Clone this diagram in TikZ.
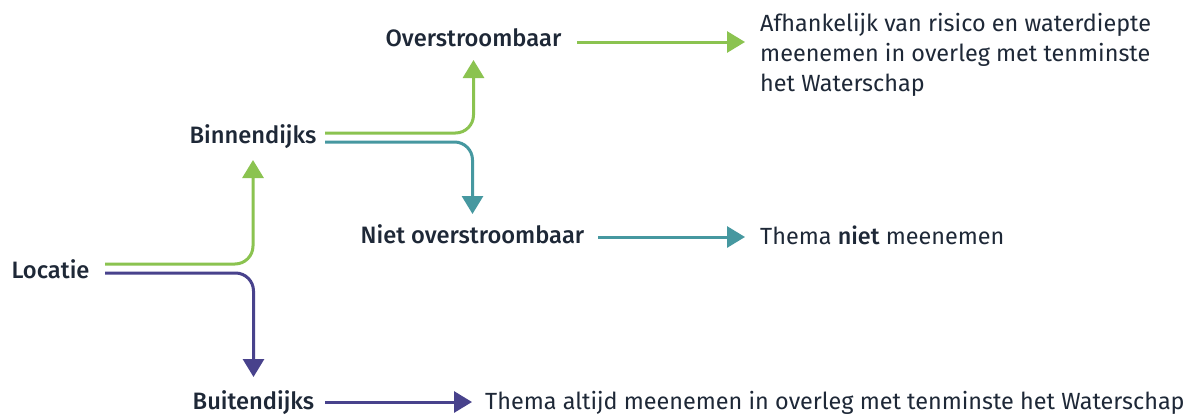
\documentclass[tikz,border=0pt]{standalone}
\usepackage{fontspec}
\setmainfont{Fira Sans}[BoldFont={Fira Sans Medium}]
\usetikzlibrary{arrows.meta,calc}
\definecolor{cgreen}{RGB}{139,195,80}
\definecolor{cteal}{RGB}{70,152,160}
\definecolor{cpurple}{RGB}{72,66,140}
\definecolor{ctext}{RGB}{30,40,55}
\tikzset{
  lab/.style={inner sep=0pt, text=ctext, font=\fontsize{23.7}{28}\selectfont\bfseries},
  txt/.style={inner sep=0pt, text=ctext, font=\fontsize{23.4}{30}\selectfont, align=left},
  conn/.style={line width=3pt, rounded corners=18pt, -{Triangle[width=21pt,length=18pt]}},
  gconn/.style={conn, draw=cgreen},
  tconn/.style={conn, draw=cteal},
  pconn/.style={conn, draw=cpurple},
}
\begin{document}
\begin{tikzpicture}[x=1pt,y=-1pt]
\useasboundingbox[fill=white] (0,0) rectangle (1191,415);
\node[lab, anchor=base] (loc) at (50.5,278) {Locatie};
\node[lab, anchor=base] (binn) at (253,143) {Binnendijks};
\node[lab, anchor=base] (buit) at (253.5,409) {Buitendijks};
\node[lab, anchor=base] (over) at (473.5,46.5) {Overstroombaar};
\node[lab, anchor=base] (niet) at (472.5,243) {Niet overstroombaar};
\node[txt, anchor=base west] (r1) at (760,31.7) {Afhankelijk van risico en waterdiepte};
\node[txt, anchor=base west] (r1b) at (760,61.7) {meenemen in overleg met tenminste};
\node[txt, anchor=base west] (r1c) at (760,91.7) {het Waterschap};
\node[txt, anchor=base west] (r2) at (760,244) {Thema \textbf{niet} meenemen};
\node[txt, anchor=base west] (r3) at (485,409) {Thema altijd meenemen in overleg met tenminste het Waterschap};
% from Locatie
\draw[gconn] ($(loc.base)+(54.5,-14)$) -| ($(binn.base)+(0,17)$);
\draw[pconn] ($(loc.base)+(54.5,-5)$) -| ($(buit.base)+(0,-32)$);
% from Binnendijks
\draw[gconn] ($(binn.base)+(72,-10)$) -| ($(over.base)+(0,13.5)$);
\draw[tconn] ($(binn.base)+(72,-1)$) -| ($(niet.base)+(0,-29)$);
% horizontal arrows
\draw[gconn] ($(over.base)+(103.5,-4.5)$) -- ($(r1.base west)+(-15,10.3)$);
\draw[tconn] ($(niet.base)+(125.5,-6)$) -- ($(r2.base west)+(-15,-7)$);
\draw[pconn] ($(buit.base)+(71.5,-7)$) -- ($(r3.base west)+(-13,-7)$);
\end{tikzpicture}
\end{document}
